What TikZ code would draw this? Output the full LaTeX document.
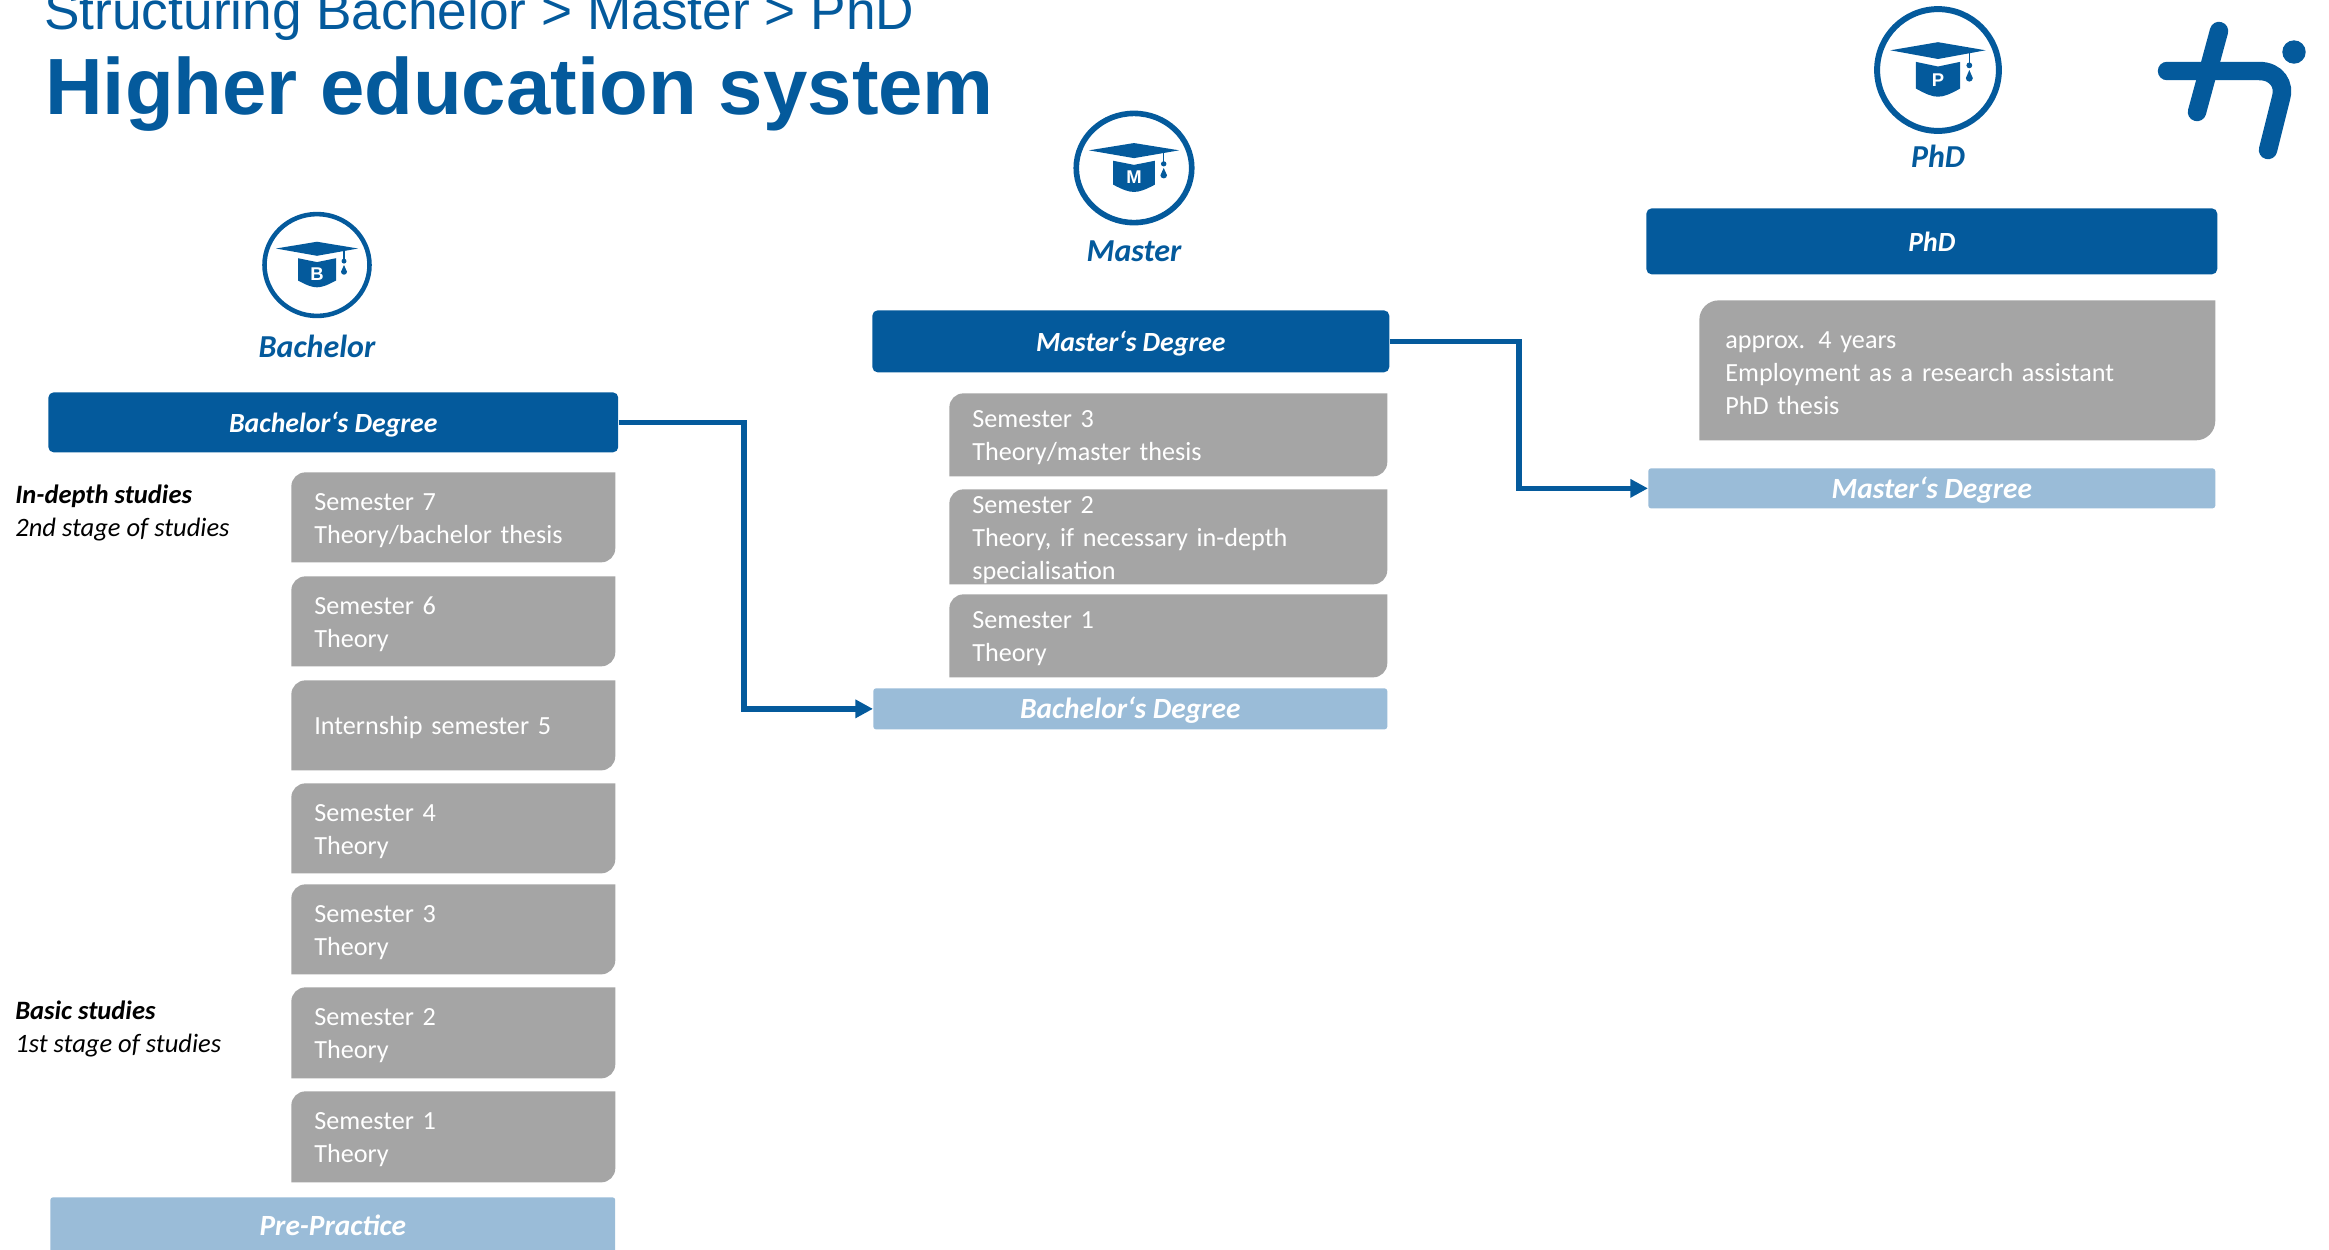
\documentclass[tikz,border=0pt]{standalone}
\usepackage{fontspec}
\setmainfont{Carlito}
\newfontfamily\titlefont{Liberation Sans}
\usetikzlibrary{arrows.meta}

\definecolor{hsblue}{HTML}{045A9C}
\definecolor{hsgray}{HTML}{A5A5A5}
\definecolor{hslight}{HTML}{9ABCD8}

\tikzset{
    degree/.style={rectangle, rounded corners=3pt, fill=hsblue, text=white, anchor=north west, inner sep=0pt,
        text height=11pt, text depth=0pt, font=\fontsize{15.8}{18}\selectfont\bfseries\itshape},
    entry/.style={rectangle, rounded corners=1.5pt, fill=hslight, text=white, anchor=north west, inner sep=0pt,
        text height=11.4pt, text depth=0pt, font=\fontsize{16.7}{18}\selectfont\bfseries\itshape},
    semester/.style={rectangle, anchor=north west, text=white, align=left, inner ysep=0pt, inner xsep=0.46cm,
        font=\fontsize{14.9}{18.7}\selectfont, execute at begin node={\rule{0pt}{13pt}},
        path picture={
            \fill[hsgray] (path picture bounding box.south west) [rounded corners=#1]
                -- (path picture bounding box.north west) [sharp corners]
                -- (path picture bounding box.north east) [rounded corners=#1]
                -- (path picture bounding box.south east) [sharp corners] -- cycle;
        }},
    semester/.default=8pt,
    stage/.style={anchor=west, align=left, inner sep=0pt, font=\fontsize{15.1}{18.7}\selectfont\itshape},
    level/.style={text=hsblue, inner sep=0pt, font=\fontsize{18.2}{20}\selectfont\bfseries\itshape},
    link/.style={draw=hsblue, line width=3pt, -{Triangle[length=10pt,width=10pt]}},
    hatring/.style={line width=2.6pt},
    pics/gradhat/.style={code={
        \draw[hsblue, hatring] (0,0) circle (52.5);
        \fill[hsblue] (-41,-17) -- (0,-24) -- (41,-17) -- (0,-9.5) -- cycle; % Board
        \fill[hsblue] (-19,-7) -- (0,-3) -- (19,-7) -- (19,16) .. controls (10,21) and (5,23) .. (0,23)
            .. controls (-5,23) and (-10,21) .. (-19,16) -- cycle; % Cap
        \draw[hsblue, line width=0.8pt] (27,-15) -- (27,-4);
        \fill[hsblue] (27,-4) circle (2.5);
        \fill[hsblue] (27,0) -- (30,7) arc (0:180:3) -- cycle; % Tassel
        \node[text=white, inner sep=0pt, font=\titlefont\fontsize{10.5}{10.5}\selectfont\bfseries] (-mark) at (0,9) {#1};
    }},
}

\begin{document}
\begin{tikzpicture}[x=0.02cm, y=-0.02cm]

    \useasboundingbox (0,0) rectangle (2329,1249);

    % Title
    \node[anchor=base west, inner sep=0pt, text=hsblue, font=\titlefont\fontsize{30.3}{31}\selectfont] (subtitle) at (44,29) {Structuring Bachelor > Master > PhD};
    \node[anchor=base west, inner sep=0pt, text=hsblue, font=\titlefont\fontsize{45.4}{46}\selectfont\bfseries] (title) at (45,114) {Higher education system};

    % Logo
    \draw[hsblue, line width=10.5pt, line cap=round] (2219,31) -- (2197,112);
    \draw[hsblue, line width=10.5pt, line cap=round] (2167,71) -- (2259,71) .. controls (2277,71) and (2285,85) .. (2281,98) -- (2268,150);
    \fill[hsblue] (2294,52) circle (11.7);

    % Bachelor column
    \path (317,265) pic[yscale=0.97] (hatB) {gradhat=B};
    \node[level] (labelB) at (317,346) {Bachelor};
    \node[degree, minimum width=11.4cm, minimum height=1.2cm] (bachDeg) at (48,392) {Bachelor‘s Degree};

    \node[semester, text width=5.56cm, minimum height=1.8cm] (bachSem7) at (291,472) {Semester 7\\Theory/bachelor thesis};
    \node[semester, text width=5.56cm, minimum height=1.8cm] (bachSem6) at (291,576) {Semester 6\\Theory};
    \node[semester, text width=5.56cm, minimum height=1.8cm] (bachSem5) at (291,680) {Internship semester 5};
    \node[semester, text width=5.56cm, minimum height=1.8cm] (bachSem4) at (291,783) {Semester 4\\Theory};
    \node[semester, text width=5.56cm, minimum height=1.8cm] (bachSem3) at (291,884) {Semester 3\\Theory};
    \node[semester, text width=5.56cm, minimum height=1.82cm] (bachSem2) at (291,987) {Semester 2\\Theory};
    \node[semester, text width=5.56cm, minimum height=1.82cm] (bachSem1) at (291,1091) {Semester 1\\Theory};
    \node[entry, minimum width=11.3cm, minimum height=1.12cm] (prePractice) at (50,1197) {Pre-Practice};

    \node[stage] (stageUpper) at (15,513) {\textbf{In-depth studies}\\2nd stage of studies};
    \node[stage] (stageLower) at (15,1029) {\textbf{Basic studies}\\1st stage of studies};

    % Master column
    \path (1134,168) pic[xscale=1.1, yscale=1.04, hatring/.style={line width=3.2pt}] (hatM) {gradhat=M};
    \node[level] (labelM) at (1134,251) {Master};
    \node[degree, minimum width=10.34cm, minimum height=1.24cm] (mastDeg) at (872,310) {Master‘s Degree};

    \node[semester, text width=7.84cm, minimum height=1.66cm] (mastSem3) at (949,393) {Semester 3\\Theory/master thesis};
    \node[semester, text width=7.84cm, minimum height=1.9cm] (mastSem2) at (949,489) {Semester 2\\Theory, if necessary in-depth\\specialisation};
    \node[semester, text width=7.84cm, minimum height=1.66cm] (mastSem1) at (949,594) {Semester 1\\Theory};
    \node[entry, minimum width=10.28cm, minimum height=0.82cm] (bachIn) at (873,688) {Bachelor‘s Degree};

    % PhD column
    \path (1938,70) pic[scale=1.16, hatring/.style={line width=3.4pt}] (hatP) {gradhat=P};
    \node[level] (labelP) at (1938,156) {PhD};
    \node[degree, minimum width=11.42cm, minimum height=1.32cm] (phdDeg) at (1646,208) {PhD};

    \node[semester=11pt, inner xsep=0.52cm, text width=9.28cm, minimum height=2.8cm] (phdBody) at (1699,300) {approx. 4 years\\Employment as a research assistant\\PhD thesis};
    \node[entry, minimum width=11.34cm, minimum height=0.8cm] (mastIn) at (1648,468) {Master‘s Degree};

    % Connections
    \coordinate (bendB) at (744,500);
    \coordinate (bendM) at (1519,400);
    \draw[link] (bachDeg.east) -| (bendB) |- (bachIn.west);
    \draw[link] (mastDeg.east) -| (bendM) |- (mastIn.west);

\end{tikzpicture}
\end{document}
